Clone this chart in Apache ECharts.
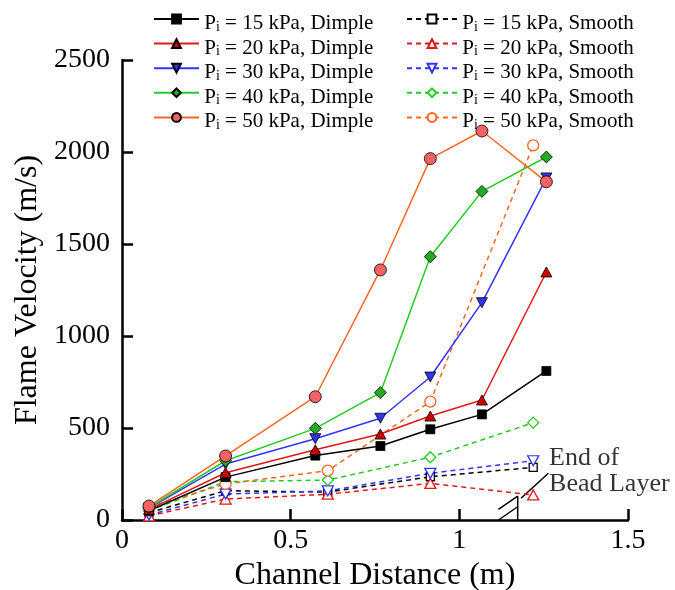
<!DOCTYPE html>
<html><head><meta charset="utf-8">
<script src="https://cdn.jsdelivr.net/npm/echarts@6/dist/echarts.min.js"></script>
<style>html,body{margin:0;padding:0;background:#fff}#c{width:675px;height:590px}</style>
</head><body><div id="c"></div>
<script>
// ---- data ----
const dimpleX = [0.08, 0.307, 0.573, 0.766, 0.914, 1.067, 1.258];
const smoothX = [0.08, 0.307, 0.61, 0.914, 1.219];
const pressures = [15, 20, 30, 40, 50];
const dimple15 = [50, 233, 350, 402, 493, 574, 810];
const dimple20 = [58, 257, 382, 467, 565, 652, 1348];
const dimple30 = [65, 304, 442, 553, 777, 1181, 1859];
const dimple40 = [68, 322, 498, 692, 1431, 1786, 1973];
const dimple50 = [76, 348, 670, 1359, 1964, 2114, 1838];
const smooth15 = [40, 159, 152, 235, 286];
const smooth20 = [22, 114, 140, 199, 136];
const smooth30 = [27, 141, 158, 254, 322];
const smooth40 = [50, 208, 217, 341, 529];
const smooth50 = [70, 196, 268, 643, 2036];
const xTicks = [0, 0.5, 1, 1.5];
const yTicks = [0, 500, 1000, 1500, 2000, 2500];
const annotText = 'End of\nBead Layer';
const beadEndX = 1.173;
// annotation geometry (data units)
const breakLines = [
  [[beadEndX, 0], [beadEndX, 130]],
  [[1.116, 58], [beadEndX, 130]],
  [[1.116, 0], [beadEndX, 72]],
  [[1.183, 118], [1.264, 254]]
];
const annotPos = [1.266, 268];

const FONT = '"Liberation Serif","Times New Roman",serif';
const dimpleVals = [dimple15, dimple20, dimple30, dimple40, dimple50];
const smoothVals = [smooth15, smooth20, smooth30, smooth40, smooth50];
const lineColors = ['#000000', '#e01818', '#3333ff', '#22cc22', '#ff6622'];
const fillColors = ['#000000', '#cc0000', '#3333ee', '#22aa22', '#f26262'];
const symbols = ['rect', 'triangle', 'triangle', 'diamond', 'circle'];
const rot = [0, 0, 180, 0, 0];
const dSize = [[9, 9], [11, 10], [11, 10], [12, 12], [12, 12]];
const sSize = [[8, 8], [11, 10], [11, 10], [11, 11], [11, 11]];

function zip(xs, ys) { return xs.map((x, i) => [x, ys[i]]); }

const series = [];
const dimpleNames = [], smoothNames = [];
pressures.forEach((p, i) => {
  const n = 'Pi = ' + p + ' kPa, Dimple';
  dimpleNames.push(n);
  series.push({
    name: n, type: 'line', data: zip(dimpleX, dimpleVals[i]),
    symbol: symbols[i], symbolSize: dSize[i], symbolRotate: rot[i], showAllSymbol: true,
    lineStyle: { color: lineColors[i], width: 1.5 },
    itemStyle: { color: fillColors[i], borderColor: '#000', borderWidth: 0.8 },
    z: 3 + i
  });
});
pressures.forEach((p, i) => {
  const n = 'Pi = ' + p + ' kPa, Smooth';
  smoothNames.push(n);
  series.push({
    name: n, type: 'line', data: zip(smoothX, smoothVals[i]),
    symbol: symbols[i], symbolSize: sSize[i], symbolRotate: rot[i], showAllSymbol: true,
    lineStyle: { color: lineColors[i], width: 1.5, type: [5, 4] },
    itemStyle: { color: '#ffffff', borderColor: lineColors[i], borderWidth: 1.3 },
    z: 2
  });
});
breakLines.forEach((seg) => {
  series.push({
    name: '_annot', type: 'line', data: seg, symbol: 'none', silent: true,
    lineStyle: { color: '#000', width: 1.5 }, z: 1
  });
});
series.push({
  name: '_text', type: 'scatter', data: [annotPos], symbolSize: 0, silent: true,
  label: {
    show: true, position: [0, 0], align: 'left', verticalAlign: 'middle',
    formatter: annotText, fontFamily: FONT, fontSize: 26, lineHeight: 26, color: '#000'
  }
});

const legendText = {
  fontFamily: FONT, color: '#000',
  rich: {
    t: { fontFamily: FONT, fontSize: 1, lineHeight: 30, verticalAlign: 'bottom' },
    a: { fontFamily: FONT, fontSize: 21, lineHeight: 22, verticalAlign: 'bottom', color: '#000' },
    s: { fontFamily: FONT, fontSize: 14, lineHeight: 7, verticalAlign: 'bottom', color: '#000' }
  }
};
function legFmt(name) { return '{t| }{a|P}{s|i}{a|' + name.slice(2) + '}'; }

const chart = echarts.init(document.getElementById('c'), null, { renderer: 'canvas' });
chart.setOption({
  animation: false,
  backgroundColor: '#ffffff',
  grid: { left: 122, right: 47, top: 60, bottom: 70, containLabel: false, outerBoundsMode: 'none' },
  legend: [
    { data: dimpleNames, orient: 'vertical', left: 153, top: 13, padding: 0, itemWidth: 45, itemHeight: 11,
      itemGap: 3.6, textStyle: legendText, formatter: legFmt, selectedMode: false },
    { data: smoothNames, orient: 'vertical', left: 406, top: 13, padding: 0, itemWidth: 50, itemHeight: 11,
      itemGap: 3.6, textStyle: legendText, formatter: legFmt, selectedMode: false }
  ],
  xAxis: {
    type: 'value', min: xTicks[0], max: xTicks[xTicks.length - 1], interval: 0.5,
    name: 'Channel Distance (m)', nameLocation: 'middle', nameGap: 34,
    nameTextStyle: { fontFamily: FONT, fontSize: 32, color: '#000' },
    axisLine: { show: true, lineStyle: { color: '#000', width: 2.5 } },
    axisTick: { show: true, inside: true, length: 11, lineStyle: { color: '#000', width: 2.5 } },
    axisLabel: { fontFamily: FONT, fontSize: 28, color: '#000', margin: 7,
      formatter: v => (xTicks.indexOf(v) >= 0 ? String(v) : '') },
    splitLine: { show: false }
  },
  yAxis: {
    type: 'value', min: yTicks[0], max: yTicks[yTicks.length - 1], interval: 500,
    name: 'Flame Velocity (m/s)', nameLocation: 'middle', nameGap: 77,
    nameTextStyle: { fontFamily: FONT, fontSize: 32, color: '#000' },
    axisLine: { show: true, lineStyle: { color: '#000', width: 2.5 } },
    axisTick: { show: true, inside: true, length: 11, lineStyle: { color: '#000', width: 2.5 } },
    axisLabel: { fontFamily: FONT, fontSize: 28, color: '#000', margin: 12,
      formatter: v => (yTicks.indexOf(v) >= 0 ? String(v) : '') },
    splitLine: { show: false }
  },
  series: series
});
</script></body></html>
